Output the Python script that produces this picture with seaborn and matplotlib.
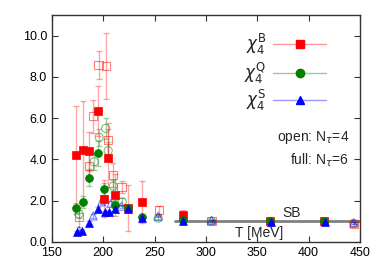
import numpy as np
import pandas as pd
import matplotlib
matplotlib.use("Agg")
import matplotlib.pyplot as plt
import seaborn as sns
from matplotlib.lines import Line2D

# N_tau = 6 (full symbols)
T_B6 = [173.4, 179.9, 185.7, 195.0, 200.9, 204.8, 211.3, 224.3, 237.5, 277.9, 362.5, 415.5]
B6 = [4.21, 4.45, 4.40, 6.35, 2.09, 4.05, 2.27, 1.65, 1.94, 1.30, 1.00, 1.03]
B6_err = [2.4, 2.4, 0.95, 1.2, 0.9, 1.4, 1.0, 1.1, 1.0, 0.24, 0.22, 0.08]

T_Q6 = [173.4, 179.9, 186.0, 195.0, 200.9, 211.3, 224.3, 237.5, 277.9, 362.5, 415.5]
Q6 = [1.62, 1.94, 3.11, 4.29, 2.57, 1.81, 1.62, 1.20, 1.05, 1.00, 1.00]
Q6_err = [0.25, 0.3, 0.4, 0.6, 0.3, 0.2, 0.15, 0.1, 0.05, 0.05, 0.03]

T_S6 = [174.0, 179.5, 186.3, 195.1, 201.6, 205.5, 211.3, 224.3, 238.0, 277.9, 363.0, 415.8]
S6 = [0.46, 0.55, 0.94, 1.60, 1.43, 1.43, 1.59, 1.59, 1.18, 1.02, 0.97, 0.97]
S6_err = [0.05, 0.05, 0.08, 0.1, 0.08, 0.08, 0.08, 0.08, 0.05, 0.03, 0.03, 0.02]

# N_tau = 4 (open symbols)
T_B4 = [176.3, 186.3, 190.2, 195.4, 202.6, 204.8, 209.7, 217.8, 253.9, 305.5, 444.0]
B4 = [1.21, 3.69, 6.10, 8.58, 8.54, 4.94, 3.24, 2.67, 1.54, 1.00, 0.85]
B4_err = [0.5, 0.6, 0.8, 0.67, 1.6, 0.8, 0.6, 0.3, 0.2, 0.1, 0.1]

T_Q4 = [176.3, 191.2, 196.0, 202.3, 204.8, 209.7, 218.5, 253.5, 305.5, 444.0]
Q4 = [1.35, 3.88, 5.07, 5.50, 4.42, 2.70, 1.94, 1.15, 1.00, 0.90]
Q4_err = [0.2, 0.4, 0.4, 0.5, 0.4, 0.3, 0.2, 0.1, 0.05, 0.05]

T_S4 = [176.3, 190.2, 198.4, 207.4, 217.8, 253.5, 305.5, 444.0]
S4 = [0.55, 1.26, 1.94, 1.86, 1.73, 1.25, 1.05, 0.92]
S4_err = [0.05, 0.08, 0.1, 0.1, 0.08, 0.05, 0.03, 0.03]

sb_T = [270, 450]
sb_val = [1.0, 1.0]

x_ticks = [150, 200, 250, 300, 350, 400, 450]
y_ticks = [0, 2, 4, 6, 8, 10]

sns.set_style("ticks")
plt.rcParams["font.family"] = ["Liberation Sans", "DejaVu Sans"]
plt.rcParams["mathtext.fontset"] = "dejavusans"

fig = plt.figure(figsize=(3.82, 2.67), dpi=100)
ax = fig.add_axes([0.136, 0.094, 0.806, 0.85])

ax.plot(sb_T, sb_val, color="#808080", lw=2, zorder=1)

series = [
    (T_B4, B4, B4_err, "red", "s", True),
    (T_Q4, Q4, Q4_err, "green", "o", True),
    (T_S4, S4, S4_err, "blue", "^", True),
    (T_B6, B6, B6_err, "red", "s", False),
    (T_Q6, Q6, Q6_err, "green", "o", False),
    (T_S6, S6, S6_err, "blue", "^", False),
]
for T, v, e, c, m, hollow in series:
    ax.errorbar(T, v, yerr=e, fmt="none", ecolor=c, alpha=0.35,
                elinewidth=1, capsize=2, capthick=1, zorder=2)
    df = pd.DataFrame({"T": T, "v": v})
    if hollow:
        sns.scatterplot(data=df, x="T", y="v", marker=m, s=34, ax=ax,
                        facecolor="none", edgecolor=c, linewidth=0.8,
                        alpha=0.5, zorder=3)
    else:
        sns.scatterplot(data=df, x="T", y="v", marker=m, s=32, ax=ax,
                        color=c, edgecolor=c, linewidth=0.5, zorder=4)

ax.set_xlim(150, 450)
ax.set_ylim(0, 11)
ax.set_xticks(x_ticks)
ax.set_yticks(y_ticks)
ax.set_yticklabels([f"{t:.1f}" for t in y_ticks])
ax.set_xlabel("")
ax.set_ylabel("")
ax.tick_params(direction="in", length=4, width=0.8, top=True, right=True,
               labelsize=9, colors="#333333", labelcolor="black")
for sp in ax.spines.values():
    sp.set_color("#333333")
    sp.set_linewidth(1)

ax.text(440, 5.08, r"open: N$_\tau$=4", ha="right", va="center", fontsize=10)
ax.text(440, 3.97, r"full: N$_\tau$=6", ha="right", va="center", fontsize=10)
ax.text(383, 1.39, "SB", ha="center", va="center", fontsize=10)
ax.text(352, 0.42, "T [MeV]", ha="center", va="center", fontsize=10)

handles = [
    Line2D([], [], color=(1, 0.6, 0.6), marker="s", mfc="red", mec="red", ms=6, lw=1),
    Line2D([], [], color=(0.6, 0.8, 0.6), marker="o", mfc="green", mec="green", ms=6, lw=1),
    Line2D([], [], color=(0.6, 0.6, 1), marker="^", mfc="blue", mec="blue", ms=6, lw=1),
]
labels = [r"$\chi_4^{\rm B}$", r"$\chi_4^{\rm Q}$", r"$\chi_4^{\rm S}$"]
ax.legend(handles, labels, loc="upper right", bbox_to_anchor=(0.94, 0.99),
          frameon=False, markerfirst=False, fontsize=12, handlelength=3.2,
          labelspacing=0.15, handletextpad=0.4)

fig.savefig("out.png", dpi=100)
